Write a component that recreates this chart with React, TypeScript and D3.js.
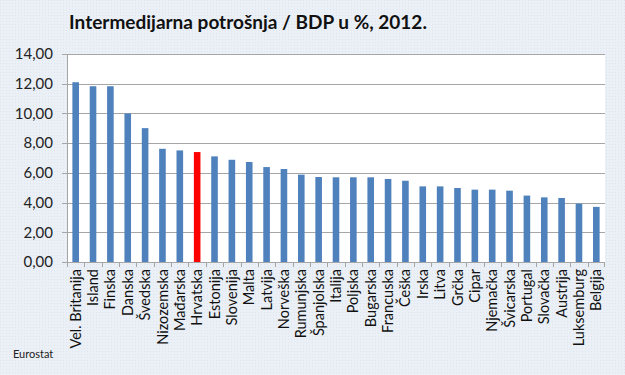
import React from "react";
import * as d3 from "d3";

const countries = ["Vel. Britanija","Island","Finska","Danska","Švedska","Nizozemska","Mađarska","Hrvatska","Estonija","Slovenija","Malta","Latvija","Norveška","Rumunjska","Španjolska","Italija","Poljska","Bugarska","Francuska","Češka","Irska","Litva","Grčka","Cipar","Njemačka","Švicarska","Portugal","Slovačka","Austrija","Luksemburg","Belgija"];
const values = [12.1,11.83,11.83,10.0,9.01,7.62,7.51,7.4,7.11,6.88,6.73,6.39,6.26,5.88,5.72,5.7,5.7,5.7,5.59,5.47,5.09,5.09,4.98,4.87,4.87,4.8,4.47,4.35,4.31,3.93,3.71];
const highlighted = "Hrvatska";
const yTicks = [0,2,4,6,8,10,12,14];
const title = "Intermedijarna potrošnja / BDP u %, 2012.";
const source = "Eurostat";

export default function App() {
  const W = 625, H = 375;
  const left = 67, right = 605, top = 54, bottom = 262;
  const x = d3.scaleBand<string>().domain(countries).range([left, right]).paddingInner(0.62).paddingOuter(0.31);
  const y = d3.scaleLinear().domain([0, 14]).range([bottom, top]);
  const fmt = (v: number) => v.toFixed(2).replace(".", ",");
  const step = x.step();
  const font = "Lato, 'Open Sans', sans-serif";
  return (
    <svg width={W} height={H} style={{ position: "absolute", left: 0, top: 0 }} fontFamily={font}>
      <defs>
        <pattern id="dots" width="3" height="3" patternUnits="userSpaceOnUse">
          <rect width="3" height="3" fill="#ebf0f6" />
          <rect width="1" height="1" fill="#dfe5ee" />
        </pattern>
      </defs>
      <rect width={W} height={H} fill="url(#dots)" />
      <rect x={left} y={top} width={right - left} height={bottom - top} fill="#ffffff" />
      {yTicks.map(t => (
        <g key={t}>
          <line x1={left - 5} x2={right} y1={Math.round(y(t)) + 0.5} y2={Math.round(y(t)) + 0.5} stroke="#a6a6a6" strokeWidth={1} />
          <text x={53} y={y(t)} dy="0.35em" textAnchor="end" fontSize={15} fill="#222">{fmt(t)}</text>
        </g>
      ))}
      <line x1={left + 0.5} x2={left + 0.5} y1={top} y2={bottom} stroke="#a6a6a6" />
      {countries.map((c, i) => (
        <line key={"t" + c} x1={Math.round(left + i * step) + 0.5} x2={Math.round(left + i * step) + 0.5} y1={bottom} y2={bottom + 5} stroke="#a6a6a6" />
      ))}
      <line x1={right - 0.5} x2={right - 0.5} y1={bottom} y2={bottom + 5} stroke="#a6a6a6" />
      {countries.map((c, i) => (
        <rect key={c} x={x(c)} y={y(values[i])} width={x.bandwidth()} height={bottom - y(values[i])}
          fill={c === highlighted ? "#ff0000" : "#4f81bd"} />
      ))}
      {countries.map(c => {
        const cx = (x(c) as number) + x.bandwidth() / 2;
        return (
          <text key={"l" + c} transform={`translate(${cx},269) rotate(-90)`} dy="0.35em" textAnchor="end" fontSize={14.5} fill="#111">{c}</text>
        );
      })}
      <text x={248} y={29} textAnchor="middle" fontSize={19} fontWeight="bold" fill="#111">{title}</text>
      <text x={13} y={358} fontSize={11} fill="#222">{source}</text>
    </svg>
  );
}
